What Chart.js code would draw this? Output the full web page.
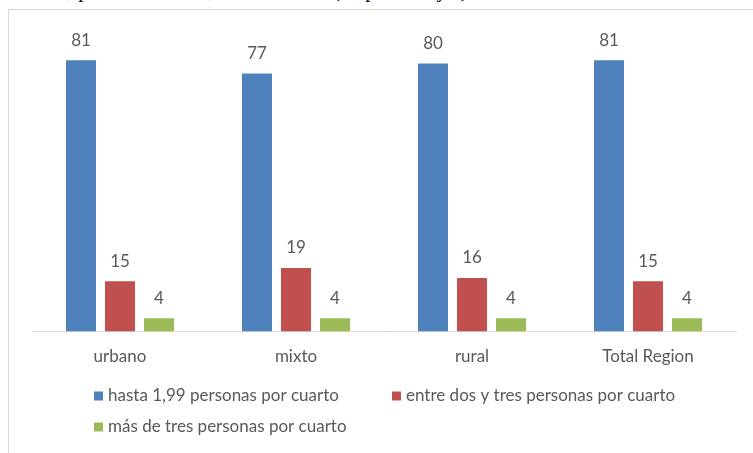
<!DOCTYPE html>
<html lang="es">
<head>
<meta charset="utf-8">
<title>Hacinamiento por área</title>
<script src="https://cdn.jsdelivr.net/npm/chart.js@4.4.1/dist/chart.umd.min.js"></script>
<style>
  body {
    margin: 0;
    background: #ffffff;
    width: 753px;
    height: 453px;
    overflow: hidden;
    position: relative;
  }

  #page-title {
    position: absolute;
    left: -50px;
    top: -20px;
    font-family: "Liberation Serif", "Times New Roman", serif;
    font-size: 21px;
    line-height: 21px;
    white-space: nowrap;
    color: #000000;
  }

  #chart-frame {
    position: absolute;
    left: 8px;
    top: 9px;
    width: 800px;
    height: 500px;
    border: 1px solid #d9d9d9;
  }

  #chart-box {
    position: absolute;
    left: 9px;
    top: 10px;
    width: 744px;
    height: 443px;
  }
</style>
</head>
<body>
<div id="page-title">Hacinamiento, por área urbana, mixta o rural (en porcentajes)</div>
<div id="chart-frame"></div>
<div id="chart-box">
  <canvas id="density-chart" width="744" height="443"></canvas>
</div>

<script>
const categories = ["urbano", "mixto", "rural", "Total Region"];
const seriesNames = [
  "hasta 1,99 personas por cuarto",
  "entre dos y tres personas por cuarto",
  "más de tres personas por cuarto",
];
const lowDensity = [81, 77, 80, 81];
const midDensity = [15, 19, 16, 15];
const highDensity = [4, 4, 4, 4];

const TEXT_COLOR = "#595959";
const LABEL_FONT = "17px Lato, sans-serif";

// etiquetas de valor encima de cada barra
const valueLabels = {
  id: "valueLabels",
  afterDatasetsDraw(chart) {
    const { ctx } = chart;
    ctx.save();
    ctx.font = LABEL_FONT;
    ctx.fillStyle = TEXT_COLOR;
    ctx.textAlign = "center";
    ctx.textBaseline = "middle";
    chart.data.datasets.forEach((dataset, datasetIndex) => {
      chart.getDatasetMeta(datasetIndex).data.forEach((bar, index) => {
        ctx.fillText(String(dataset.data[index]), bar.x, bar.y - 20);
      });
    });
    ctx.restore();
  },
};

// leyenda a mano: dos filas alineadas a la izquierda
const bottomLegend = {
  id: "bottomLegend",
  afterDraw(chart) {
    const { ctx } = chart;
    const spots = [
      { x: 85, y: 386 },
      { x: 383, y: 386 },
      { x: 85, y: 417 },
    ];
    ctx.save();
    ctx.font = LABEL_FONT;
    ctx.textBaseline = "middle";
    chart.data.datasets.forEach((dataset, index) => {
      const spot = spots[index];
      ctx.fillStyle = dataset.backgroundColor;
      ctx.fillRect(spot.x, spot.y - 4.5, 9, 9);
      ctx.fillStyle = TEXT_COLOR;
      ctx.fillText(dataset.label, spot.x + 14, spot.y);
    });
    ctx.restore();
  },
};

function initChart() {
  const canvas = document.getElementById("density-chart");
  if (!canvas) {
    return;
  }

  new Chart(canvas, {
    type: "bar",
    data: {
      labels: categories,
      datasets: [
        {
          label: seriesNames[0],
          data: lowDensity,
          backgroundColor: "#4f81bd",
        },
        {
          label: seriesNames[1],
          data: midDensity,
          backgroundColor: "#c0504d",
        },
        {
          label: seriesNames[2],
          data: highDensity,
          backgroundColor: "#9bbb59",
        },
      ],
    },
    options: {
      responsive: false,
      animation: false,
      devicePixelRatio: 1,
      categoryPercentage: 0.665,
      barPercentage: 0.77,
      layout: {
        padding: { left: 23, right: 17, top: 20, bottom: 79 },
      },
      plugins: {
        legend: { display: false },
        tooltip: { enabled: false },
      },
      scales: {
        x: {
          grid: { display: false },
          border: { display: true, color: "#d9d9d9", width: 1 },
          ticks: {
            color: TEXT_COLOR,
            padding: 7,
            font: { family: "Lato, sans-serif", size: 17, lineHeight: 1.2 },
          },
        },
        y: {
          display: false,
          min: 0,
          max: 90,
        },
      },
    },
    plugins: [valueLabels, bottomLegend],
  });
}

initChart();
</script>
</body>
</html>
